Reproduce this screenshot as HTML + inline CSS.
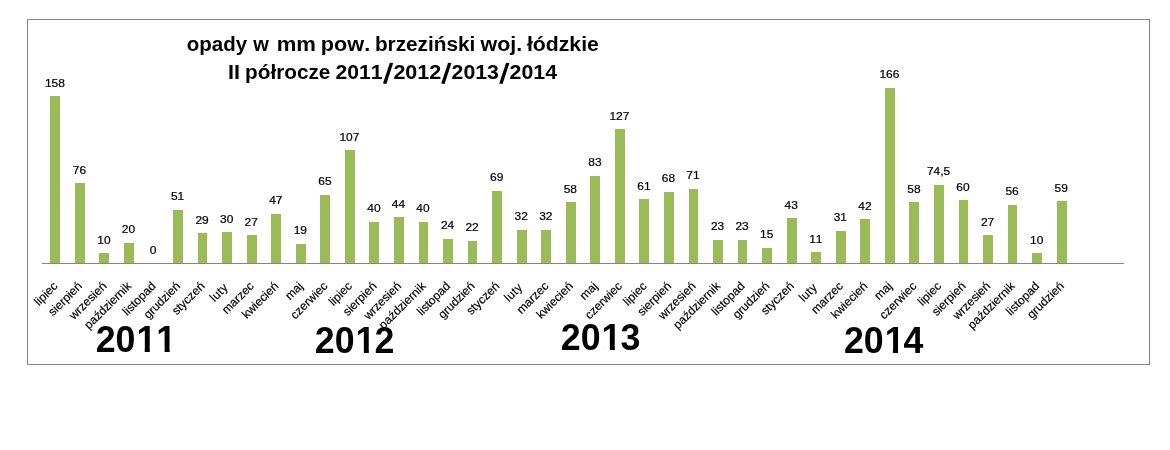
<!DOCTYPE html>
<html lang="pl"><head><meta charset="utf-8"><title>opady w mm pow. brzeziński woj. łódzkie</title>
<style>html,body{margin:0;padding:0;background:#fff}body{width:1170px;height:450px;overflow:hidden}svg{display:block}text{font-family:"Liberation Sans",sans-serif;fill:#000;font-kerning:none}.t{font-weight:bold;font-size:19.5px}.s{font-size:29.1px}.y{font-weight:bold;font-size:36.8px}.v{font-size:10.5px;text-anchor:middle;stroke:#000;stroke-width:0.2px}.c{font-size:12px;text-anchor:end;stroke:#000;stroke-width:0.18px}</style></head><body>
<svg width="1170" height="450" viewBox="0 0 1170 450">
<rect x="0" y="0" width="1170" height="450" fill="#fff"/>
<rect x="27.5" y="19.5" width="1122" height="345" fill="#fff" stroke="#868686" stroke-width="1"/>
<g fill="#9bbb59" shape-rendering="crispEdges">
<rect x="50" y="96" width="10" height="167"/>
<rect x="75" y="183" width="10" height="80"/>
<rect x="99" y="253" width="10" height="10"/>
<rect x="124" y="243" width="10" height="20"/>
<rect x="173" y="210" width="10" height="53"/>
<rect x="198" y="233" width="9" height="30"/>
<rect x="222" y="232" width="10" height="31"/>
<rect x="247" y="235" width="10" height="28"/>
<rect x="271" y="214" width="10" height="49"/>
<rect x="296" y="244" width="10" height="19"/>
<rect x="320" y="195" width="10" height="68"/>
<rect x="345" y="150" width="10" height="113"/>
<rect x="369" y="222" width="10" height="41"/>
<rect x="394" y="217" width="10" height="46"/>
<rect x="419" y="222" width="9" height="41"/>
<rect x="443" y="239" width="10" height="24"/>
<rect x="468" y="241" width="9" height="22"/>
<rect x="492" y="191" width="10" height="72"/>
<rect x="517" y="230" width="10" height="33"/>
<rect x="541" y="230" width="10" height="33"/>
<rect x="566" y="202" width="10" height="61"/>
<rect x="590" y="176" width="10" height="87"/>
<rect x="615" y="129" width="10" height="134"/>
<rect x="639" y="199" width="10" height="64"/>
<rect x="664" y="192" width="10" height="71"/>
<rect x="689" y="189" width="9" height="74"/>
<rect x="713" y="240" width="10" height="23"/>
<rect x="738" y="240" width="9" height="23"/>
<rect x="762" y="248" width="10" height="15"/>
<rect x="787" y="218" width="10" height="45"/>
<rect x="811" y="252" width="10" height="11"/>
<rect x="836" y="231" width="10" height="32"/>
<rect x="860" y="219" width="10" height="44"/>
<rect x="885" y="88" width="10" height="175"/>
<rect x="909" y="202" width="10" height="61"/>
<rect x="934" y="185" width="10" height="78"/>
<rect x="959" y="200" width="9" height="63"/>
<rect x="983" y="235" width="10" height="28"/>
<rect x="1008" y="205" width="9" height="58"/>
<rect x="1032" y="253" width="10" height="10"/>
<rect x="1057" y="201" width="10" height="62"/>
</g>
<rect x="42" y="263" width="1082" height="1" fill="#868686"/>
<g class="v">
<text x="54.9" y="87" textLength="20.0" lengthAdjust="spacingAndGlyphs">158</text>
<text x="79.4" y="174" textLength="13.3" lengthAdjust="spacingAndGlyphs">76</text>
<text x="104.0" y="244" textLength="13.3" lengthAdjust="spacingAndGlyphs">10</text>
<text x="128.5" y="233" textLength="13.3" lengthAdjust="spacingAndGlyphs">20</text>
<text x="153.1" y="254" textLength="6.7" lengthAdjust="spacingAndGlyphs">0</text>
<text x="177.6" y="200" textLength="13.3" lengthAdjust="spacingAndGlyphs">51</text>
<text x="202.1" y="224" textLength="13.3" lengthAdjust="spacingAndGlyphs">29</text>
<text x="226.7" y="223" textLength="13.3" lengthAdjust="spacingAndGlyphs">30</text>
<text x="251.2" y="226" textLength="13.3" lengthAdjust="spacingAndGlyphs">27</text>
<text x="275.8" y="204" textLength="13.3" lengthAdjust="spacingAndGlyphs">47</text>
<text x="300.3" y="234" textLength="13.3" lengthAdjust="spacingAndGlyphs">19</text>
<text x="324.9" y="185" textLength="13.3" lengthAdjust="spacingAndGlyphs">65</text>
<text x="349.4" y="141" textLength="20.0" lengthAdjust="spacingAndGlyphs">107</text>
<text x="374.0" y="212" textLength="13.3" lengthAdjust="spacingAndGlyphs">40</text>
<text x="398.5" y="208" textLength="13.3" lengthAdjust="spacingAndGlyphs">44</text>
<text x="423.0" y="212" textLength="13.3" lengthAdjust="spacingAndGlyphs">40</text>
<text x="447.6" y="229" textLength="13.3" lengthAdjust="spacingAndGlyphs">24</text>
<text x="472.1" y="231" textLength="13.3" lengthAdjust="spacingAndGlyphs">22</text>
<text x="496.7" y="181" textLength="13.3" lengthAdjust="spacingAndGlyphs">69</text>
<text x="521.2" y="220" textLength="13.3" lengthAdjust="spacingAndGlyphs">32</text>
<text x="545.8" y="220" textLength="13.3" lengthAdjust="spacingAndGlyphs">32</text>
<text x="570.3" y="193" textLength="13.3" lengthAdjust="spacingAndGlyphs">58</text>
<text x="594.9" y="166" textLength="13.3" lengthAdjust="spacingAndGlyphs">83</text>
<text x="619.4" y="120" textLength="20.0" lengthAdjust="spacingAndGlyphs">127</text>
<text x="644.0" y="190" textLength="13.3" lengthAdjust="spacingAndGlyphs">61</text>
<text x="668.5" y="182" textLength="13.3" lengthAdjust="spacingAndGlyphs">68</text>
<text x="693.0" y="179" textLength="13.3" lengthAdjust="spacingAndGlyphs">71</text>
<text x="717.6" y="230" textLength="13.3" lengthAdjust="spacingAndGlyphs">23</text>
<text x="742.1" y="230" textLength="13.3" lengthAdjust="spacingAndGlyphs">23</text>
<text x="766.7" y="238" textLength="13.3" lengthAdjust="spacingAndGlyphs">15</text>
<text x="791.2" y="209" textLength="13.3" lengthAdjust="spacingAndGlyphs">43</text>
<text x="815.8" y="243" textLength="13.3" lengthAdjust="spacingAndGlyphs">11</text>
<text x="840.3" y="221" textLength="13.3" lengthAdjust="spacingAndGlyphs">31</text>
<text x="864.9" y="210" textLength="13.3" lengthAdjust="spacingAndGlyphs">42</text>
<text x="889.4" y="78" textLength="20.0" lengthAdjust="spacingAndGlyphs">166</text>
<text x="913.9" y="193" textLength="13.3" lengthAdjust="spacingAndGlyphs">58</text>
<text x="938.5" y="175" textLength="23.0" lengthAdjust="spacingAndGlyphs">74,5</text>
<text x="963.0" y="191" textLength="13.3" lengthAdjust="spacingAndGlyphs">60</text>
<text x="987.6" y="226" textLength="13.3" lengthAdjust="spacingAndGlyphs">27</text>
<text x="1012.1" y="195" textLength="13.3" lengthAdjust="spacingAndGlyphs">56</text>
<text x="1036.7" y="244" textLength="13.3" lengthAdjust="spacingAndGlyphs">10</text>
<text x="1061.2" y="192" textLength="13.3" lengthAdjust="spacingAndGlyphs">59</text>
</g>
<text class="y" transform="translate(95.7 352.4) scale(0.9711 1)" x="0.00 20.47 41.96 62.43" y="0">2011</text>
<text class="y" transform="translate(314.8 353.3) scale(0.9711 1)" x="0.00 20.47 41.96 61.40" y="0">2012</text>
<text class="y" transform="translate(560.8 349.9) scale(0.9711 1)" x="0.00 20.47 41.96 61.40" y="0">2013</text>
<text class="y" transform="translate(843.9 353.3) scale(0.9711 1)" x="0.00 20.47 41.96 61.40" y="0">2014</text>
<g fill="#fff">
<rect x="138.02" y="347.34" width="6.70" height="6.36"/>
<rect x="149.76" y="347.34" width="6.47" height="6.36"/>
<rect x="157.90" y="347.34" width="6.70" height="6.36"/>
<rect x="169.64" y="347.34" width="6.47" height="6.36"/>
<rect x="357.12" y="348.24" width="6.70" height="6.36"/>
<rect x="368.86" y="348.24" width="6.47" height="6.36"/>
<rect x="603.12" y="344.84" width="6.70" height="6.36"/>
<rect x="614.86" y="344.84" width="6.47" height="6.36"/>
<rect x="886.22" y="348.24" width="6.70" height="6.36"/>
<rect x="897.96" y="348.24" width="6.47" height="6.36"/>
</g>
<g class="c">
<text transform="translate(58.3 286.8) rotate(-45)">lipiec</text>
<text transform="translate(82.8 286.8) rotate(-45)">sierpień</text>
<text transform="translate(107.4 286.8) rotate(-45)">wrzesień</text>
<text transform="translate(131.9 286.8) rotate(-45)">październik</text>
<text transform="translate(156.5 286.8) rotate(-45)">listopad</text>
<text transform="translate(181.0 286.8) rotate(-45)">grudzień</text>
<text transform="translate(205.5 286.8) rotate(-45)">styczeń</text>
<text transform="translate(228.9 288.0) rotate(-45)" letter-spacing="0.4">luty</text>
<text transform="translate(254.6 286.8) rotate(-45)">marzec</text>
<text transform="translate(279.2 286.8) rotate(-45)">kwiecień</text>
<text transform="translate(303.7 286.8) rotate(-45)">maj</text>
<text transform="translate(328.3 286.8) rotate(-45)">czerwiec</text>
<text transform="translate(352.8 286.8) rotate(-45)">lipiec</text>
<text transform="translate(377.4 286.8) rotate(-45)">sierpień</text>
<text transform="translate(401.9 286.8) rotate(-45)">wrzesień</text>
<text transform="translate(426.4 286.8) rotate(-45)">październik</text>
<text transform="translate(451.0 286.8) rotate(-45)">listopad</text>
<text transform="translate(475.5 286.8) rotate(-45)">grudzień</text>
<text transform="translate(500.1 286.8) rotate(-45)">styczeń</text>
<text transform="translate(523.4 288.0) rotate(-45)" letter-spacing="0.4">luty</text>
<text transform="translate(549.2 286.8) rotate(-45)">marzec</text>
<text transform="translate(573.7 286.8) rotate(-45)">kwiecień</text>
<text transform="translate(598.3 286.8) rotate(-45)">maj</text>
<text transform="translate(622.8 286.8) rotate(-45)">czerwiec</text>
<text transform="translate(647.4 286.8) rotate(-45)">lipiec</text>
<text transform="translate(671.9 286.8) rotate(-45)">sierpień</text>
<text transform="translate(696.4 286.8) rotate(-45)">wrzesień</text>
<text transform="translate(721.0 286.8) rotate(-45)">październik</text>
<text transform="translate(745.5 286.8) rotate(-45)">listopad</text>
<text transform="translate(770.1 286.8) rotate(-45)">grudzień</text>
<text transform="translate(794.6 286.8) rotate(-45)">styczeń</text>
<text transform="translate(818.0 288.0) rotate(-45)" letter-spacing="0.4">luty</text>
<text transform="translate(843.7 286.8) rotate(-45)">marzec</text>
<text transform="translate(868.3 286.8) rotate(-45)">kwiecień</text>
<text transform="translate(892.8 286.8) rotate(-45)">maj</text>
<text transform="translate(917.3 286.8) rotate(-45)">czerwiec</text>
<text transform="translate(941.9 286.8) rotate(-45)">lipiec</text>
<text transform="translate(966.4 286.8) rotate(-45)">sierpień</text>
<text transform="translate(991.0 286.8) rotate(-45)">wrzesień</text>
<text transform="translate(1015.5 286.8) rotate(-45)">październik</text>
<text transform="translate(1040.1 286.8) rotate(-45)">listopad</text>
<text transform="translate(1064.6 286.8) rotate(-45)">grudzień</text>
</g>
<text class="t"><tspan x="186.8" y="50.6" textLength="60.3" lengthAdjust="spacingAndGlyphs">opady</tspan> <tspan x="253.3" y="50.6" textLength="15.6" lengthAdjust="spacingAndGlyphs">w</tspan> <tspan x="276.7" y="50.6" textLength="39.3" lengthAdjust="spacingAndGlyphs">mm</tspan> <tspan x="320.8" y="50.6" textLength="49.4" lengthAdjust="spacingAndGlyphs">pow.</tspan> <tspan x="374.9" y="50.6" textLength="100.5" lengthAdjust="spacingAndGlyphs">brzeziński</tspan> <tspan x="480.5" y="50.6" textLength="41.6" lengthAdjust="spacingAndGlyphs">woj.</tspan> <tspan x="526.9" y="50.6" textLength="72.0" lengthAdjust="spacingAndGlyphs">łódzkie</tspan></text>
<text class="t"><tspan x="228.1" y="79.4" textLength="12.0" lengthAdjust="spacingAndGlyphs">II</tspan> <tspan x="245.1" y="79.4" textLength="85.3" lengthAdjust="spacingAndGlyphs">półrocze</tspan> <tspan x="335.4" y="79.4" textLength="47.0" lengthAdjust="spacingAndGlyphs">2011</tspan><tspan class="s" x="382.8" y="83.0" rotate="7.4">/</tspan><tspan x="393.4" y="79.4" textLength="47.9" lengthAdjust="spacingAndGlyphs">2012</tspan><tspan class="s" x="441.0" y="83.0" rotate="7.4">/</tspan><tspan x="451.6" y="79.4" textLength="47.3" lengthAdjust="spacingAndGlyphs">2013</tspan><tspan class="s" x="499.0" y="83.0" rotate="7.4">/</tspan><tspan x="509.6" y="79.4" textLength="47.5" lengthAdjust="spacingAndGlyphs">2014</tspan></text>
</svg></body></html>
